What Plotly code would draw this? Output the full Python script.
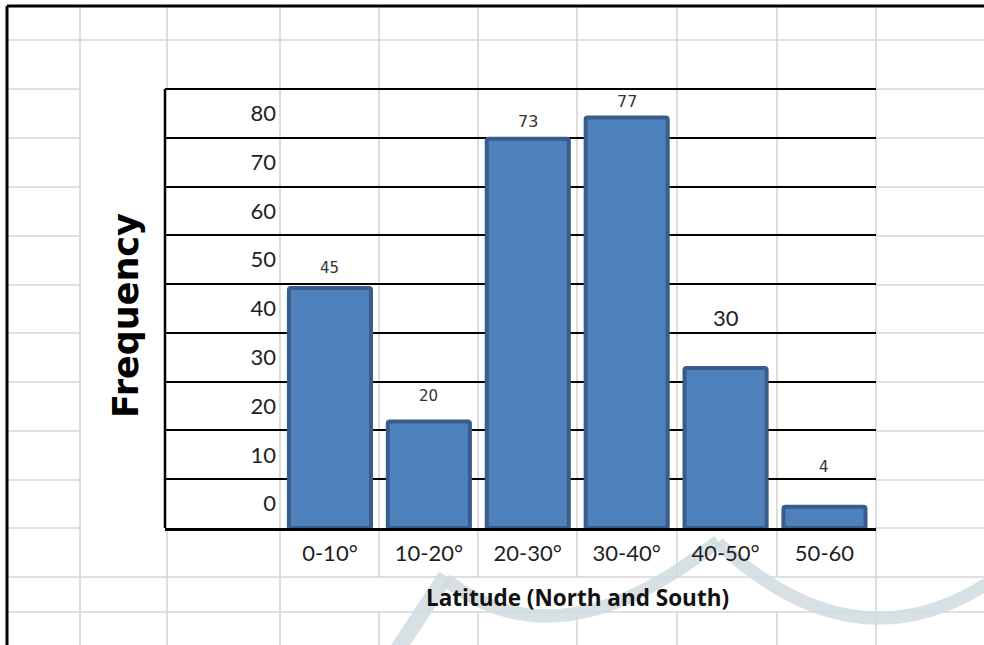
import plotly.graph_objects as go

# ---- data -------------------------------------------------------------
latitude_bins = ["0-10°", "10-20°", "20-30°", "30-40°", "40-50°", "50-60"]
frequency = [45, 20, 73, 77, 30, 4]
y_tick_labels = ["0", "10", "20", "30", "40", "50", "60", "70", "80"]

# ---- canvas helpers (pixel -> paper fraction) --------------------------
W, H = 984, 645


def px(x):
    return x / W


def py(y):
    return 1 - y / H


PLOT_L, PLOT_R, PLOT_T, PLOT_B = 165, 876, 89, 528
LABEL_EDGE = 280

# per-label vertical offsets and fonts for the value labels
label_shift = [20, 25, 17, 16, 51, 40]
label_font = [
    dict(family="DejaVu Sans", size=15, color="#333333"),
    dict(family="DejaVu Sans", size=15, color="#333333"),
    dict(family="DejaVu Sans", size=16, color="#333333"),
    dict(family="DejaVu Sans", size=16, color="#333333"),
    dict(family="Lato", size=22, color="#222222"),
    dict(family="DejaVu Sans", size=15, color="#333333"),
]

fig = go.Figure()

fig.add_trace(
    go.Bar(
        x=latitude_bins,
        y=frequency,
        marker=dict(color="#4f81bd", line=dict(color="#385d8a", width=4), cornerradius=2),
        width=0.83,
        hoverinfo="x+y",
        showlegend=False,
    )
)

# invisible helper trace so the label/grid axis is realised
fig.add_trace(
    go.Scatter(x=[latitude_bins[0]], y=[0], yaxis="y2", mode="markers",
               marker=dict(opacity=0), showlegend=False, hoverinfo="skip")
)

# value labels above each bar
for cat, val, dy, fnt in zip(latitude_bins, frequency, label_shift, label_font):
    fig.add_annotation(x=cat, y=val, text=str(val), showarrow=False,
                       yshift=dy, font=fnt, xanchor="center", yanchor="middle")

# ---- spreadsheet cell grid behind the chart ----------------------------
GRID = "#d6d6d6"
shapes = []


def seg(x0, y0, x1, y1, color=GRID, width=1.6, layer="below"):
    shapes.append(dict(type="line", xref="paper", yref="paper",
                       x0=px(x0), y0=py(y0), x1=px(x1), y1=py(y1),
                       line=dict(color=color, width=width), layer=layer))


rows_chart = [89, 138, 187, 236, 285, 333, 382, 431, 480, 528]
# horizontal cell borders
seg(7, 40, 984, 40)
for r in rows_chart:
    seg(7, r, 80, r)
    seg(876, r, 984, r)
seg(7, 577, 984, 577)
seg(7, 612, 984, 612)
# vertical cell borders
seg(80, 6, 80, 645)
seg(167, 6, 167, 89)
seg(167, 528, 167, 645)
seg(280, 6, 280, 645)
for c in [379, 478, 577, 677, 777]:
    seg(c, 6, c, 577)
    seg(c, 612, c, 645)
seg(876, 6, 876, 645)

# faint swoosh watermark
WM = "rgba(208,218,224,0.85)"


def path(d, width):
    shapes.append(dict(type="path", xref="paper", yref="paper", path=d,
                       line=dict(color=WM, width=width), layer="below"))


def P(x, y):
    return f"{px(x):.5f},{py(y):.5f}"


path(f"M {P(396, 652)} L {P(446, 576)}", 16)
path(f"M {P(446, 580)} Q {P(560, 668)} {P(718, 541)}", 13)
path(f"M {P(718, 543)} Q {P(860, 675)} {P(1000, 575)}", 13)

# window frame lines
seg(7, 6, 984, 6, color="black", width=3, layer="above")
seg(7, 6, 7, 645, color="black", width=3, layer="above")
# chart frame: left border and top rule
seg(PLOT_L, PLOT_T, PLOT_L, PLOT_B, color="black", width=2.5, layer="above")
seg(PLOT_L, PLOT_T, PLOT_R, PLOT_T, color="black", width=2.2, layer="above")

fig.update_layout(
    width=W,
    height=H,
    autosize=False,
    margin=dict(l=0, r=0, t=0, b=0),
    paper_bgcolor="white",
    plot_bgcolor="rgba(0,0,0,0)",
    shapes=shapes,
    xaxis=dict(
        domain=[px(PLOT_L), px(PLOT_R)],
        range=[-1.668, 5.521],
        showgrid=False,
        zeroline=False,
        showline=True,
        linecolor="black",
        linewidth=2.5,
        ticks="",
        tickfont=dict(family="Lato", size=22, color="#1e1e1e"),
        ticklabelstandoff=4,
    ),
    yaxis=dict(
        domain=[py(PLOT_B), py(PLOT_T)],
        range=[0, 82.35],
        showgrid=False,
        zeroline=False,
        showticklabels=False,
        showline=False,
        ticks="",
    ),
    yaxis2=dict(
        overlaying="y",
        anchor="free",
        position=px(LABEL_EDGE),
        side="left",
        range=[0, 9],
        tickvals=[i + 0.5 for i in range(len(y_tick_labels))],
        ticktext=y_tick_labels,
        ticks="",
        ticklabelstandoff=4,
        showgrid=False,
        zeroline=False,
        showline=False,
        tickfont=dict(family="Lato", size=22, color="#1e1e1e"),
        minor=dict(dtick=1, tick0=0, showgrid=True, gridcolor="black", gridwidth=1.6),
    ),
)

# x-axis title sits in its own merged cell below the category labels
fig.add_annotation(
    xref="paper", yref="paper", x=px(577), y=py(597),
    text="<b>Latitude (North and South)</b>", showarrow=False,
    font=dict(family="Open Sans", size=22.5, color="#111111"),
    xanchor="center", yanchor="middle",
)

fig.add_annotation(
    xref="paper", yref="paper", x=px(126), y=py(316),
    text="<b>Frequency</b>", textangle=-90, showarrow=False,
    font=dict(family="DejaVu Sans", size=35, color="black"),
    xanchor="center", yanchor="middle",
)

fig.write_html("out.html")
